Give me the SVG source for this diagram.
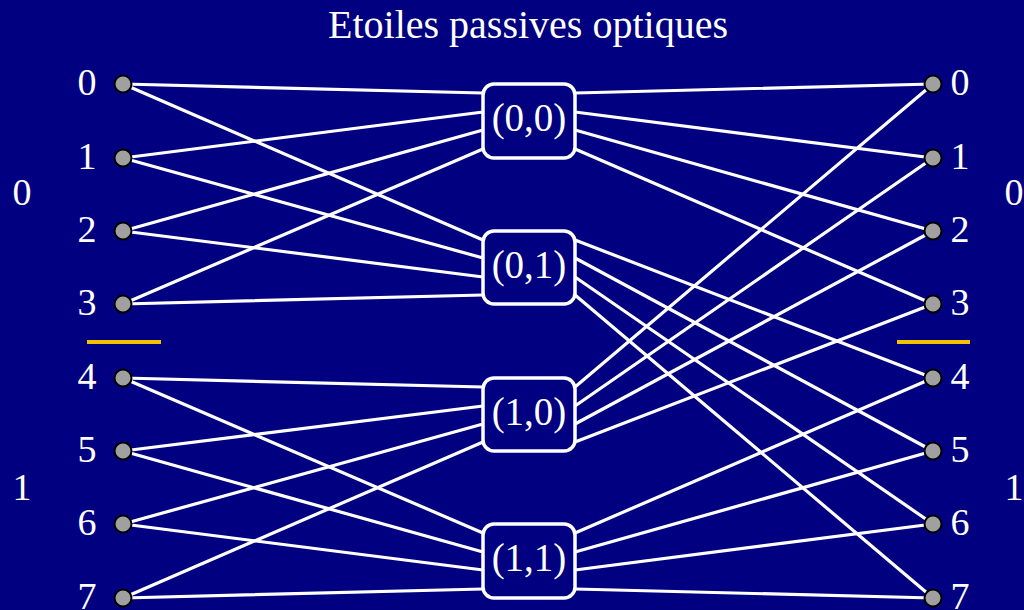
<svg xmlns="http://www.w3.org/2000/svg" width="1024" height="610" viewBox="0 0 1024 610" font-family="Liberation Serif, Times New Roman, serif">
<style>
.t{fill:#ffffff}
.e{stroke:#ffffff;stroke-width:3.2;fill:none;stroke-linecap:round}
.n{fill:#a0a0a0;stroke:#000000;stroke-width:2}
.b{fill:#000080;stroke:#ffffff;stroke-width:3.5}
.y{stroke:#f2c200;stroke-width:4}
</style>
<rect x="0" y="0" width="1024" height="610" fill="#000080"/>
<text class="t" x="528" y="38" font-size="40" text-anchor="middle" font-family="Liberation Serif">Etoiles passives optiques</text>
<g id="edges">
<line class="e" x1="123" y1="84" x2="483" y2="93"/>
<line class="e" x1="123" y1="158" x2="483" y2="112"/>
<line class="e" x1="123" y1="231" x2="483" y2="130"/>
<line class="e" x1="123" y1="304" x2="483" y2="149"/>
<line class="e" x1="123" y1="84" x2="483" y2="240"/>
<line class="e" x1="123" y1="158" x2="483" y2="258"/>
<line class="e" x1="123" y1="231" x2="483" y2="277"/>
<line class="e" x1="123" y1="304" x2="483" y2="295"/>
<line class="e" x1="123" y1="378" x2="483" y2="387"/>
<line class="e" x1="123" y1="451" x2="483" y2="406"/>
<line class="e" x1="123" y1="524" x2="483" y2="424"/>
<line class="e" x1="123" y1="598" x2="483" y2="442"/>
<line class="e" x1="123" y1="378" x2="483" y2="533"/>
<line class="e" x1="123" y1="451" x2="483" y2="552"/>
<line class="e" x1="123" y1="524" x2="483" y2="570"/>
<line class="e" x1="123" y1="598" x2="483" y2="589"/>
<line class="e" x1="575" y1="93" x2="933" y2="84"/>
<line class="e" x1="575" y1="112" x2="933" y2="158"/>
<line class="e" x1="575" y1="130" x2="933" y2="231"/>
<line class="e" x1="575" y1="149" x2="933" y2="304"/>
<line class="e" x1="575" y1="240" x2="933" y2="378"/>
<line class="e" x1="575" y1="258" x2="933" y2="451"/>
<line class="e" x1="575" y1="277" x2="933" y2="524"/>
<line class="e" x1="575" y1="295" x2="933" y2="598"/>
<line class="e" x1="575" y1="387" x2="933" y2="84"/>
<line class="e" x1="575" y1="406" x2="933" y2="158"/>
<line class="e" x1="575" y1="424" x2="933" y2="231"/>
<line class="e" x1="575" y1="442" x2="933" y2="304"/>
<line class="e" x1="575" y1="533" x2="933" y2="378"/>
<line class="e" x1="575" y1="552" x2="933" y2="451"/>
<line class="e" x1="575" y1="570" x2="933" y2="524"/>
<line class="e" x1="575" y1="589" x2="933" y2="598"/>
</g>
<g id="box00"><rect class="b" x="483" y="84" width="92" height="74" rx="11"/><text class="t" x="529" y="131" font-size="39" text-anchor="middle">(0,0)</text></g>
<g id="box01"><rect class="b" x="483" y="231" width="92" height="73" rx="11"/><text class="t" x="529" y="278" font-size="39" text-anchor="middle">(0,1)</text></g>
<g id="box10"><rect class="b" x="483" y="378" width="92" height="73" rx="11"/><text class="t" x="529" y="425" font-size="39" text-anchor="middle">(1,0)</text></g>
<g id="box11"><rect class="b" x="483" y="524" width="92" height="74" rx="11"/><text class="t" x="529" y="571" font-size="39" text-anchor="middle">(1,1)</text></g>
<g id="left">
<g id="in0"><circle class="n" cx="123" cy="84" r="8.5"/><text class="t" x="87" y="95" font-size="38" text-anchor="middle">0</text></g>
<g id="in1"><circle class="n" cx="123" cy="158" r="8.5"/><text class="t" x="87" y="169" font-size="38" text-anchor="middle">1</text></g>
<g id="in2"><circle class="n" cx="123" cy="231" r="8.5"/><text class="t" x="87" y="242" font-size="38" text-anchor="middle">2</text></g>
<g id="in3"><circle class="n" cx="123" cy="304" r="8.5"/><text class="t" x="87" y="315" font-size="38" text-anchor="middle">3</text></g>
<g id="in4"><circle class="n" cx="123" cy="378" r="8.5"/><text class="t" x="87" y="389" font-size="38" text-anchor="middle">4</text></g>
<g id="in5"><circle class="n" cx="123" cy="451" r="8.5"/><text class="t" x="87" y="462" font-size="38" text-anchor="middle">5</text></g>
<g id="in6"><circle class="n" cx="123" cy="524" r="8.5"/><text class="t" x="87" y="535" font-size="38" text-anchor="middle">6</text></g>
<g id="in7"><circle class="n" cx="123" cy="598" r="8.5"/><text class="t" x="87" y="609" font-size="38" text-anchor="middle">7</text></g>
</g>
<g id="right">
<g id="out0"><circle class="n" cx="933" cy="84" r="8.5"/><text class="t" x="960" y="95" font-size="38" text-anchor="middle">0</text></g>
<g id="out1"><circle class="n" cx="933" cy="158" r="8.5"/><text class="t" x="960" y="169" font-size="38" text-anchor="middle">1</text></g>
<g id="out2"><circle class="n" cx="933" cy="231" r="8.5"/><text class="t" x="960" y="242" font-size="38" text-anchor="middle">2</text></g>
<g id="out3"><circle class="n" cx="933" cy="304" r="8.5"/><text class="t" x="960" y="315" font-size="38" text-anchor="middle">3</text></g>
<g id="out4"><circle class="n" cx="933" cy="378" r="8.5"/><text class="t" x="960" y="389" font-size="38" text-anchor="middle">4</text></g>
<g id="out5"><circle class="n" cx="933" cy="451" r="8.5"/><text class="t" x="960" y="462" font-size="38" text-anchor="middle">5</text></g>
<g id="out6"><circle class="n" cx="933" cy="524" r="8.5"/><text class="t" x="960" y="535" font-size="38" text-anchor="middle">6</text></g>
<g id="out7"><circle class="n" cx="933" cy="598" r="8.5"/><text class="t" x="960" y="609" font-size="38" text-anchor="middle">7</text></g>
</g>
<g id="groups">
<line class="y" x1="87" y1="342" x2="161" y2="342"/>
<line class="y" x1="897" y1="342" x2="970" y2="342"/>
<text class="t" x="22" y="205" font-size="38" text-anchor="middle">0</text>
<text class="t" x="22" y="500" font-size="38" text-anchor="middle">1</text>
<text class="t" x="1014" y="205" font-size="38" text-anchor="middle">0</text>
<text class="t" x="1014" y="500" font-size="38" text-anchor="middle">1</text>
</g>
</svg>
